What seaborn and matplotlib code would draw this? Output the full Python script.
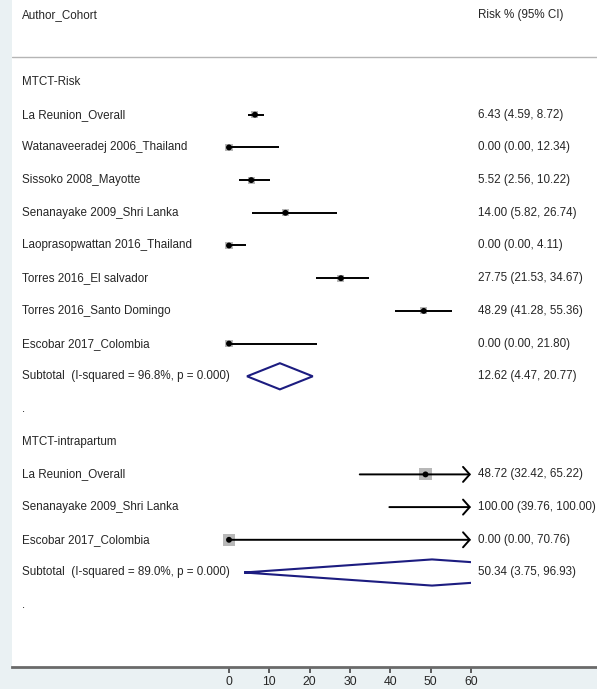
import numpy as np
import pandas as pd
import matplotlib
matplotlib.use("Agg")
import matplotlib.pyplot as plt
from matplotlib.patches import Polygon, Rectangle
import seaborn as sns

# ---- data -------------------------------------------------------------
groups = ["MTCT-Risk", "MTCT-intrapartum"]

risk_studies = [
    "La Reunion_Overall",
    "Watanaveeradej 2006_Thailand",
    "Sissoko 2008_Mayotte",
    "Senanayake 2009_Shri Lanka",
    "Laoprasopwattan 2016_Thailand",
    "Torres 2016_El salvador",
    "Torres 2016_Santo Domingo",
    "Escobar 2017_Colombia",
]
risk_est = [6.43, 0.00, 5.52, 14.00, 0.00, 27.75, 48.29, 0.00]
risk_lo = [4.59, 0.00, 2.56, 5.82, 0.00, 21.53, 41.28, 0.00]
risk_hi = [8.72, 12.34, 10.22, 26.74, 4.11, 34.67, 55.36, 21.80]
risk_sub = (12.62, 4.47, 20.77)
risk_sub_label = "Subtotal  (I-squared = 96.8%, p = 0.000)"

intra_studies = [
    "La Reunion_Overall",
    "Senanayake 2009_Shri Lanka",
    "Escobar 2017_Colombia",
]
intra_est = [48.72, 100.00, 0.00]
intra_lo = [32.42, 39.76, 0.00]
intra_hi = [65.22, 100.00, 70.76]
intra_sub = (50.34, 3.75, 96.93)
intra_sub_label = "Subtotal  (I-squared = 89.0%, p = 0.000)"

xticks = [0, 10, 20, 30, 40, 50, 60]
xmax_shown = 60

# ---- build row table ----------------------------------------------------
rows = []
def add(kind, label, est=np.nan, lo=np.nan, hi=np.nan, box=0):
    rows.append(dict(kind=kind, label=label, est=est, lo=lo, hi=hi, box=box))

add("group", groups[0])
for s, e, l, h in zip(risk_studies, risk_est, risk_lo, risk_hi):
    add("study", s, e, l, h, box=7)
add("subtotal", risk_sub_label, *risk_sub)
add("blank", ".")
add("group", groups[1])
for s, e, l, h in zip(intra_studies, intra_est, intra_lo, intra_hi):
    add("study", s, e, l, h, box=12)
add("subtotal", intra_sub_label, *intra_sub)
add("blank", ".")

df = pd.DataFrame(rows)
df["y"] = np.arange(len(df))

# ---- figure -------------------------------------------------------------
sns.set_theme(style="white")
plt.rcParams["font.family"] = ["Liberation Sans", "DejaVu Sans"]

W, H = 597, 689
fig = plt.figure(figsize=(W / 100, H / 100), dpi=100)
fig.patch.set_facecolor("#EAF1F3")

left_px, bottom_px = 12, 667
ax = fig.add_axes([left_px / W, (H - bottom_px) / H, 1 - left_px / W, bottom_px / H])
ax.set_facecolor("white")

px_per_unit = (471 - 229) / 60.0
ax.set_xlim((left_px - 229) / px_per_unit, (W - 229) / px_per_unit)
row_px = 32.7
ax.set_ylim((bottom_px - 82) / row_px, -82 / row_px)

txt_color = "#262626"
fs = 8.4
label_x = 22 / W
value_x = 478 / W
tr_label = matplotlib.transforms.blended_transform_factory(fig.transFigure, ax.transData)

# header
ax.text(label_x, -2.05, "Author_Cohort", transform=tr_label, fontsize=fs,
        color=txt_color, va="center", ha="left")
ax.text(value_x, -2.05, "Risk % (95% CI)", transform=tr_label, fontsize=fs,
        color=txt_color, va="center", ha="left")
ax.axhline(-0.76, color="#b5b5b5", lw=1.0)

for _, r in df.iterrows():
    ax.text(label_x, r.y, r.label, transform=tr_label, fontsize=fs,
            color=txt_color, va="center", ha="left")
    if r.kind in ("study", "subtotal"):
        ax.text(value_x, r.y, f"{r.est:.2f} ({r.lo:.2f}, {r.hi:.2f})",
                transform=tr_label, fontsize=fs, color=txt_color,
                va="center", ha="left", clip_on=False)

# study confidence intervals (arrow when the CI runs past the axis)
studies = df[df.kind == "study"]
for _, r in studies.iterrows():
    if r.hi > xmax_shown:
        ax.annotate("", xy=(xmax_shown, r.y), xytext=(r.lo, r.y),
                    arrowprops=dict(arrowstyle="->,head_length=0.4,head_width=0.45",
                                    color="black", lw=1.4, shrinkA=0, shrinkB=0))
    else:
        ax.plot([r.lo, r.hi], [r.y, r.y], color="black", lw=1.4,
                solid_capstyle="butt", zorder=3)

# weight boxes and point estimates
shown = studies[studies.est <= xmax_shown]
for box, sub in shown.groupby("box"):
    sns.scatterplot(data=sub, x="est", y="y", marker="s", s=box ** 2 * 0.52,
                    color="#b8b8b8", edgecolor="none", linewidth=0, ax=ax,
                    zorder=2, legend=False)
sns.scatterplot(data=shown, x="est", y="y", marker="o", s=18, color="black",
                edgecolor="none", linewidth=0, ax=ax, zorder=4, legend=False)

# pooled diamonds
clip = Rectangle((-1000, -100), 1000 + xmax_shown, 400, transform=ax.transData)
for _, r in df[df.kind == "subtotal"].iterrows():
    poly = Polygon([(r.lo, r.y), (r.est, r.y - 0.4), (r.hi, r.y), (r.est, r.y + 0.4)],
                   closed=True, fill=False, edgecolor="#1c1c80", lw=1.5, zorder=3)
    ax.add_patch(poly)
    poly.set_clip_path(clip)

# axis
for s in ["top", "right", "left"]:
    ax.spines[s].set_visible(False)
ax.spines["bottom"].set_color("#6a6a6a")
ax.spines["bottom"].set_linewidth(2.0)
ax.set_yticks([])
ax.set_xticks(xticks)
ax.set_xticklabels([str(t) for t in xticks], fontsize=8.8, color=txt_color)
ax.tick_params(axis="x", direction="out", length=4, width=1.2, color="#444444",
               pad=2.5, bottom=True)
ax.set_xlabel("")
ax.set_ylabel("")

fig.savefig("out.png", dpi=100, facecolor=fig.get_facecolor())
